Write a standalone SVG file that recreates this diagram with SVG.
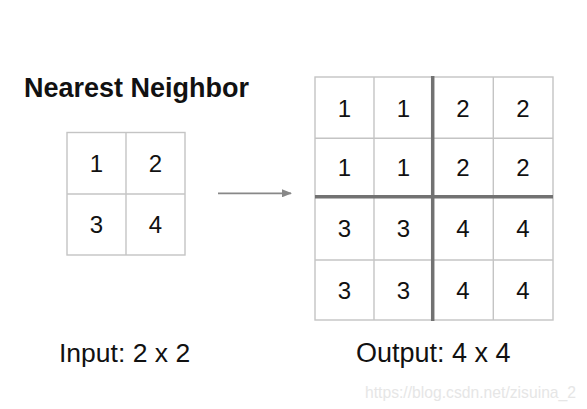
<svg xmlns="http://www.w3.org/2000/svg" width="587" height="409" viewBox="0 0 587 409">
<style>
.t{font-family:"Liberation Sans",Arial,sans-serif;fill:#111}
.d{font-size:24px;text-anchor:middle}
.g{fill:#fff;stroke:#c4c4c4;stroke-width:1.4}
.thin{stroke:#c4c4c4;stroke-width:1.4}
.thick{stroke:#727272;stroke-width:3.5}
</style>
<defs>
<marker id="ah" markerWidth="10" markerHeight="8" refX="9" refY="4" orient="auto" markerUnits="userSpaceOnUse">
<path d="M0,0 L10,4 L0,8 Z" fill="#888"/>
</marker>
</defs>
<rect width="587" height="409" fill="#fff"/>
<text class="t" x="24" y="97" font-size="27" font-weight="bold">Nearest Neighbor</text>
<g id="input">
<rect class="g" x="67" y="132.5" width="118" height="122.5"/>
<line class="thin" x1="126" y1="132.5" x2="126" y2="255"/>
<line class="thin" x1="67" y1="194" x2="185" y2="194"/>
<text class="t d" x="96.5" y="172">1</text>
<text class="t d" x="155.5" y="172">2</text>
<text class="t d" x="96.5" y="233">3</text>
<text class="t d" x="155.5" y="233">4</text>
</g>
<g id="connectors">
<line x1="218" y1="193.3" x2="291" y2="193.3" stroke="#888" stroke-width="1.8" marker-end="url(#ah)"/>
</g>
<g id="output">
<rect class="g" x="315" y="77" width="238" height="243"/>
<line class="thin" x1="374" y1="77" x2="374" y2="320"/>
<line class="thin" x1="493.3" y1="77" x2="493.3" y2="320"/>
<line class="thin" x1="315" y1="138.3" x2="553" y2="138.3"/>
<line class="thin" x1="315" y1="260" x2="553" y2="260"/>
<line class="thick" x1="432.7" y1="76" x2="432.7" y2="321"/>
<line class="thick" x1="315" y1="196.7" x2="553" y2="196.7"/>
<text class="t d" x="344.5" y="117">1</text>
<text class="t d" x="403.5" y="117">1</text>
<text class="t d" x="463" y="117">2</text>
<text class="t d" x="523" y="117">2</text>
<text class="t d" x="344.5" y="176">1</text>
<text class="t d" x="403.5" y="176">1</text>
<text class="t d" x="463" y="176">2</text>
<text class="t d" x="523" y="176">2</text>
<text class="t d" x="344.5" y="237">3</text>
<text class="t d" x="403.5" y="237">3</text>
<text class="t d" x="463" y="237">4</text>
<text class="t d" x="523" y="237">4</text>
<text class="t d" x="344.5" y="299">3</text>
<text class="t d" x="403.5" y="299">3</text>
<text class="t d" x="463" y="299">4</text>
<text class="t d" x="523" y="299">4</text>
</g>
<text class="t" x="59" y="362.3" font-size="26.5">Input: 2 x 2</text>
<text class="t" x="356" y="362" font-size="27">Output: 4 x 4</text>
<text x="365" y="397.5" font-family="Liberation Sans,Arial,sans-serif" font-size="15.7" fill="#e6e6e6">https://blog.csdn.net/zisuina_2</text>
</svg>
